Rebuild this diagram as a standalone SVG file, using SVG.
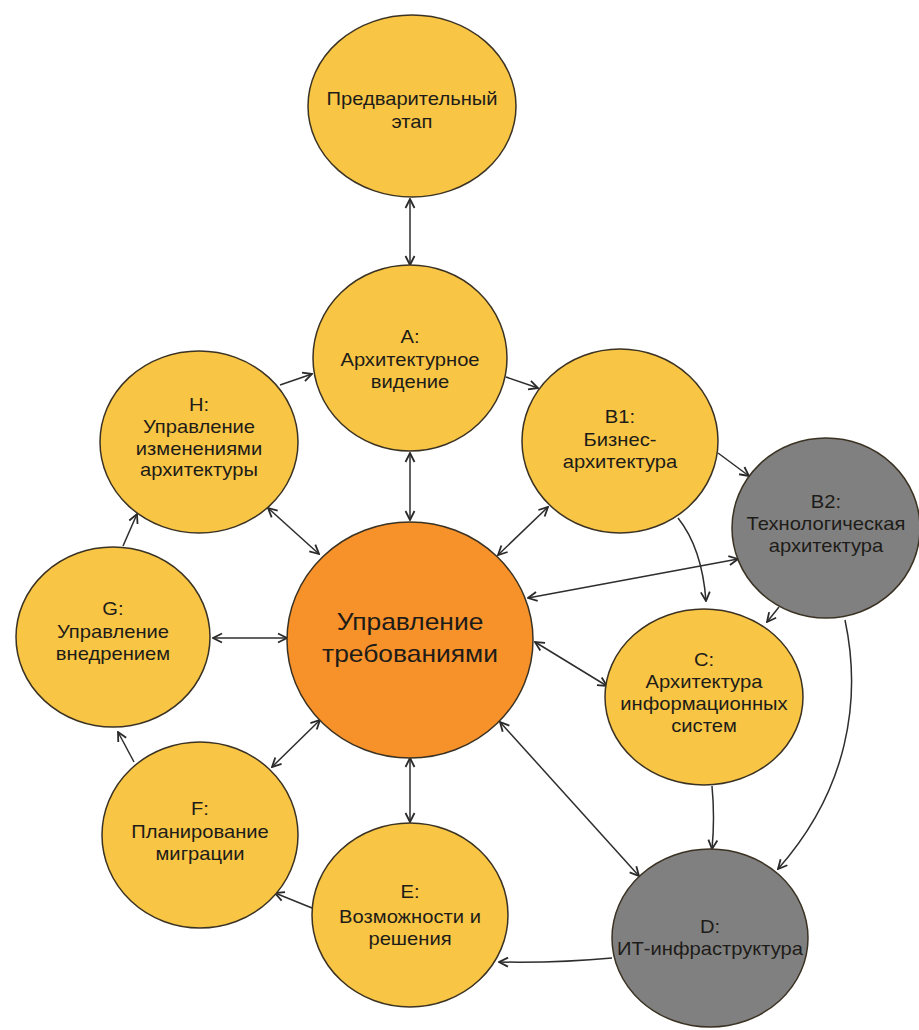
<svg xmlns="http://www.w3.org/2000/svg" width="919" height="1030" viewBox="0 0 919 1030">
  <style>
    .bg { fill: #ffffff; }
    .node ellipse { stroke: #3a3223; stroke-width: 1.5; }
    .yellow { fill: #f8c545; }
    .orange { fill: #f7912a; }
    .grey { fill: #808080; }
    .node text { font-family: "Liberation Sans", Arial, sans-serif; font-size: 18px; fill: #1e1c18; text-anchor: middle; }
    .node text.big { font-size: 24px; }
    .links path { fill: none; stroke: #2e2e2e; stroke-width: 1.5; }
    .links .one { marker-end: url(#arrow); }
    .links .two { marker-start: url(#arrow); marker-end: url(#arrow); }
  </style>
  <defs>
    <marker id="arrow" viewBox="0 0 12 12" refX="11" refY="6" markerWidth="12" markerHeight="12" markerUnits="userSpaceOnUse" orient="auto-start-reverse">
      <path d="M2,1.5 L11,6 L2,10.5" fill="none" stroke="#2a2a2a" stroke-width="1.8" stroke-linejoin="miter"/>
    </marker>
  </defs>
  <rect class="bg" x="0" y="0" width="919" height="1030"/>

  <!-- connectors -->
  <g id="connectors" class="links">
    <path class="two" d="M410,199 L410,265"/>
    <path class="one" d="M506,377 L538,388"/>
    <path class="one" d="M280,385 L312,374"/>
    <path class="one" d="M123,546 L137,514"/>
    <path class="one" d="M134,762 L118,732"/>
    <path class="one" d="M312,908 L275,893"/>
    <path class="one" d="M612,958 Q560,963 499,962"/>
    <path class="one" d="M718,453 L749,476"/>
    <path class="one" d="M678,518 Q702,548 706,601"/>
    <path class="one" d="M779,607 L767,622"/>
    <path class="one" d="M845,620 C862,700 848,790 778,869"/>
    <path class="one" d="M712,786 Q715,818 712,849"/>
    <path class="two" d="M500,722 L639,876"/>
    <path class="two" d="M535,642 L607,686"/>
    <path class="two" d="M528,598 L738,559"/>
    <path class="two" d="M498,555 L548,507"/>
    <path class="two" d="M410,453 L410,520"/>
    <path class="two" d="M268,508 L319,554"/>
    <path class="two" d="M213,638 L287,638"/>
    <path class="two" d="M272,767 L320,720"/>
    <path class="two" d="M410,758 L410,822"/>
  </g>

  <!-- preliminary phase -->
  <g id="node-prelim" class="node">
    <ellipse class="yellow" cx="412" cy="106" rx="104" ry="91"/>
    <text transform="translate(412,0) scale(1.12,1)"><tspan x="0" y="105">Предварительный</tspan><tspan x="0" y="128">этап</tspan></text>
  </g>

  <!-- A -->
  <g id="node-a" class="node">
    <ellipse class="yellow" cx="410" cy="358" rx="97" ry="93"/>
    <text transform="translate(410,0) scale(1.12,1)"><tspan x="0" y="343">A:</tspan><tspan x="0" y="366">Архитектурное</tspan><tspan x="0" y="388">видение</tspan></text>
  </g>

  <!-- B1 -->
  <g id="node-b1" class="node">
    <ellipse class="yellow" cx="620" cy="441" rx="98" ry="92"/>
    <text transform="translate(620,0) scale(1.12,1)"><tspan x="0" y="423">B1:</tspan><tspan x="0" y="446">Бизнес-</tspan><tspan x="0" y="468">архитектура</tspan></text>
  </g>

  <!-- B2 -->
  <g id="node-b2" class="node">
    <ellipse class="grey" cx="826" cy="528" rx="94" ry="90"/>
    <text transform="translate(826,0) scale(1.12,1)"><tspan x="0" y="508">B2:</tspan><tspan x="0" y="530">Технологическая</tspan><tspan x="0" y="552">архитектура</tspan></text>
  </g>

  <!-- C -->
  <g id="node-c" class="node">
    <ellipse class="yellow" cx="704" cy="697" rx="99" ry="88"/>
    <text transform="translate(704,0) scale(1.12,1)"><tspan x="0" y="666">C:</tspan><tspan x="0" y="688">Архитектура</tspan><tspan x="0" y="710">информационных</tspan><tspan x="0" y="732">систем</tspan></text>
  </g>

  <!-- D -->
  <g id="node-d" class="node">
    <ellipse class="grey" cx="710" cy="938" rx="98" ry="89"/>
    <text transform="translate(710,0) scale(1.12,1)"><tspan x="0" y="933">D:</tspan><tspan x="0" y="955">ИТ-инфраструктура</tspan></text>
  </g>

  <!-- E -->
  <g id="node-e" class="node">
    <ellipse class="yellow" cx="410" cy="915" rx="98" ry="92"/>
    <text transform="translate(410,0) scale(1.12,1)"><tspan x="0" y="898">E:</tspan><tspan x="0" y="923">Возможности и</tspan><tspan x="0" y="945">решения</tspan></text>
  </g>

  <!-- F -->
  <g id="node-f" class="node">
    <ellipse class="yellow" cx="200" cy="835" rx="98" ry="93"/>
    <text transform="translate(200,0) scale(1.12,1)"><tspan x="0" y="815">F:</tspan><tspan x="0" y="838">Планирование</tspan><tspan x="0" y="860">миграции</tspan></text>
  </g>

  <!-- G -->
  <g id="node-g" class="node">
    <ellipse class="yellow" cx="113" cy="637" rx="97" ry="90"/>
    <text transform="translate(113,0) scale(1.12,1)"><tspan x="0" y="615">G:</tspan><tspan x="0" y="638">Управление</tspan><tspan x="0" y="660">внедрением</tspan></text>
  </g>

  <!-- H -->
  <g id="node-h" class="node">
    <ellipse class="yellow" cx="199" cy="442" rx="99" ry="91"/>
    <text transform="translate(199,0) scale(1.12,1)"><tspan x="0" y="411">H:</tspan><tspan x="0" y="433">Управление</tspan><tspan x="0" y="455">изменениями</tspan><tspan x="0" y="476">архитектуры</tspan></text>
  </g>

  <!-- requirements management hub -->
  <g id="node-req" class="node">
    <ellipse class="orange" cx="410" cy="640" rx="123" ry="118"/>
    <text class="big" transform="translate(410,0) scale(1.1,1)"><tspan x="0" y="630">Управление</tspan><tspan x="0" y="662">требованиями</tspan></text>
  </g>
</svg>
